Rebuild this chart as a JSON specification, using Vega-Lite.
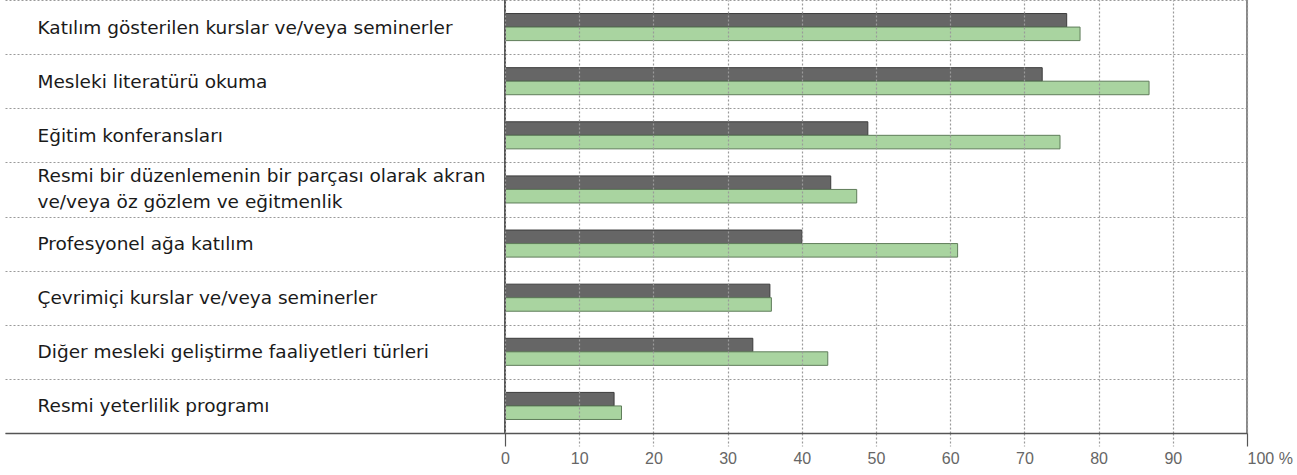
{
  "$schema": "https://vega.github.io/schema/vega-lite/v6.json",
  "width": 1242,
  "height": 433,
  "autosize": {"type": "none"},
  "padding": {"left": 5, "top": 0, "right": 50, "bottom": 42},
  "background": "white",
  "config": {"view": {"stroke": null}},
  "data": {
    "values": [
      {"kategori": "Katılım gösterilen kurslar ve/veya seminerler", "seri": "Türkiye", "yuzde": 75.7},
      {"kategori": "Katılım gösterilen kurslar ve/veya seminerler", "seri": "TALIS ortalaması", "yuzde": 77.5},
      {"kategori": "Mesleki literatürü okuma", "seri": "Türkiye", "yuzde": 72.4},
      {"kategori": "Mesleki literatürü okuma", "seri": "TALIS ortalaması", "yuzde": 86.8},
      {"kategori": "Eğitim konferansları", "seri": "Türkiye", "yuzde": 48.9},
      {"kategori": "Eğitim konferansları", "seri": "TALIS ortalaması", "yuzde": 74.8},
      {"kategori": "Resmi bir düzenlemenin bir parçası olarak akran ve/veya öz gözlem ve eğitmenlik", "seri": "Türkiye", "yuzde": 43.9},
      {"kategori": "Resmi bir düzenlemenin bir parçası olarak akran ve/veya öz gözlem ve eğitmenlik", "seri": "TALIS ortalaması", "yuzde": 47.4},
      {"kategori": "Profesyonel ağa katılım", "seri": "Türkiye", "yuzde": 40.0},
      {"kategori": "Profesyonel ağa katılım", "seri": "TALIS ortalaması", "yuzde": 61.0},
      {"kategori": "Çevrimiçi kurslar ve/veya seminerler", "seri": "Türkiye", "yuzde": 35.7},
      {"kategori": "Çevrimiçi kurslar ve/veya seminerler", "seri": "TALIS ortalaması", "yuzde": 35.9},
      {"kategori": "Diğer mesleki geliştirme faaliyetleri türleri", "seri": "Türkiye", "yuzde": 33.4},
      {"kategori": "Diğer mesleki geliştirme faaliyetleri türleri", "seri": "TALIS ortalaması", "yuzde": 43.5},
      {"kategori": "Resmi yeterlilik programı", "seri": "Türkiye", "yuzde": 14.7},
      {"kategori": "Resmi yeterlilik programı", "seri": "TALIS ortalaması", "yuzde": 15.7}
    ]
  },
  "layer": [
    {
      "mark": {"type": "bar", "strokeWidth": 1},
      "encoding": {
        "y": {
          "field": "kategori",
          "type": "nominal",
          "sort": null,
          "scale": {"paddingInner": 0, "paddingOuter": 0},
          "axis": {
            "title": null,
            "orient": "left",
            "domain": false,
            "ticks": false,
            "labelAlign": "left",
            "labelBaseline": {"condition": {"test": "datum.value == 'Resmi bir düzenlemenin bir parçası olarak akran ve/veya öz gözlem ve eğitmenlik'", "value": "line-bottom"}, "value": "middle"},
            "labelPadding": -32,
            "labelLimit": 0,
            "labelFont": "DejaVu Sans",
            "labelFontSize": 18.5,
            "labelColor": "#1a1a1a",
            "labelLineHeight": 26,
            "labelExpr": "datum.label == 'Resmi bir düzenlemenin bir parçası olarak akran ve/veya öz gözlem ve eğitmenlik' ? ['Resmi bir düzenlemenin bir parçası olarak akran', 've/veya öz gözlem ve eğitmenlik'] : datum.label",
            "grid": true,
            "tickBand": "extent",
            "gridColor": "#9a9a9a",
            "gridDash": [2, 2],
            "gridWidth": 1.2
          }
        },
        "x": {
          "field": "yuzde",
          "type": "quantitative",
          "scale": {"domain": [-67.385, 100], "nice": false, "zero": false},
          "axis": {
            "title": null,
            "values": [0, 10, 20, 30, 40, 50, 60, 70, 80, 90, 100],
            "zindex": 1,
            "domainColor": "#555555",
            "domainWidth": 1.5,
            "tickSize": 13,
            "tickColor": {"condition": {"test": "datum.value == 0 || datum.value == 100", "value": "#555555"}, "value": "#999999"},
            "tickDash": {"condition": {"test": "datum.value == 0 || datum.value == 100", "value": []}, "value": [2, 2]},
            "tickWidth": 1.2,
            "labelPadding": 4,
            "labelFont": "Liberation Sans",
            "labelFontSize": 16,
            "labelColor": "#666666",
            "labelAlign": {"condition": {"test": "datum.value == 100", "value": "left"}, "value": "center"},
            "labelExpr": "datum.value == 100 ? '100 %' : datum.label",
            "grid": true,
            "gridColor": "#9a9a9a",
            "gridDash": [2, 2],
            "gridWidth": 1.2
          }
        },
        "x2": {"datum": 0},
        "yOffset": {
          "field": "seri",
          "sort": ["Türkiye", "TALIS ortalaması"],
          "scale": {"paddingInner": 0, "paddingOuter": 1}
        },
        "color": {
          "field": "seri",
          "type": "nominal",
          "scale": {"domain": ["Türkiye", "TALIS ortalaması"], "range": ["#666666", "#a9d4a0"]},
          "legend": null
        },
        "stroke": {
          "field": "seri",
          "type": "nominal",
          "scale": {"domain": ["Türkiye", "TALIS ortalaması"], "range": ["#3c3c3c", "#5f7d5a"]},
          "legend": null
        }
      }
    },
    {
      "mark": {"type": "rule", "color": "#555555", "strokeWidth": 1.5},
      "encoding": {"x": {"datum": 0, "type": "quantitative"}}
    },
    {
      "mark": {"type": "rule", "color": "#888888", "strokeWidth": 2},
      "encoding": {"x": {"datum": 100, "type": "quantitative"}}
    }
  ]
}
